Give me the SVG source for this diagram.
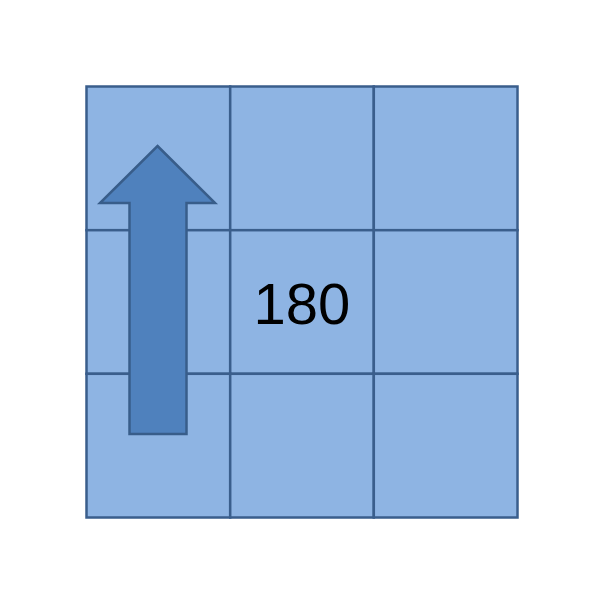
<svg xmlns="http://www.w3.org/2000/svg" width="604" height="604" viewBox="0 0 604 604">
<style>
.cell{fill:#8eb4e3;stroke:#3a5e8c;stroke-width:2.5}
.arrow{fill:#4f81bd;stroke:#385d8a;stroke-width:2.5}
.lbl{font-family:"Liberation Sans",Arial,sans-serif;font-size:58px;fill:#000}
</style>
<rect width="604" height="604" fill="#fff"/>
<g id="grid">
<rect class="cell" x="86.5" y="86.5" width="143.7" height="143.7"/>
<rect class="cell" x="230.2" y="86.5" width="143.6" height="143.7"/>
<rect class="cell" x="373.8" y="86.5" width="143.7" height="143.7"/>
<rect class="cell" x="86.5" y="230.2" width="143.7" height="143.6"/>
<rect class="cell" x="230.2" y="230.2" width="143.6" height="143.6"/>
<rect class="cell" x="373.8" y="230.2" width="143.7" height="143.6"/>
<rect class="cell" x="86.5" y="373.8" width="143.7" height="143.7"/>
<rect class="cell" x="230.2" y="373.8" width="143.6" height="143.7"/>
<rect class="cell" x="373.8" y="373.8" width="143.7" height="143.7"/>
</g>
<g id="arrow">
<polygon class="arrow" points="157.5,146 215,203 186.5,203 186.5,434 129.5,434 129.5,203 100,203"/>
</g>
<g id="label">
<text class="lbl" x="302" y="324" text-anchor="middle">180</text>
</g>
</svg>
